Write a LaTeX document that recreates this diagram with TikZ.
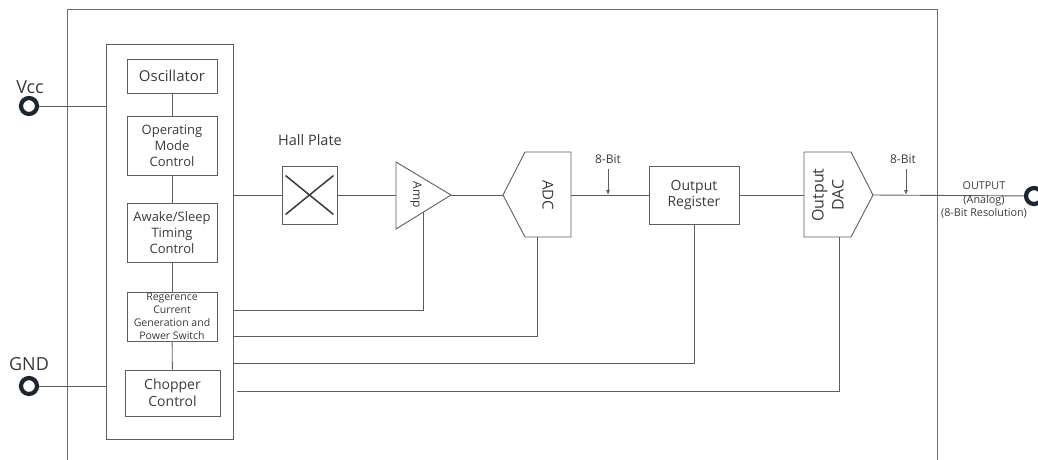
\documentclass[tikz,border=0pt]{standalone}
\usepackage{fontspec}
\setmainfont{Open Sans}
\usetikzlibrary{arrows.meta}
\definecolor{ln}{HTML}{5E5E5E}
\definecolor{tx}{HTML}{3A3A3A}
\definecolor{pin}{HTML}{1C2630}
\newcommand{\fs}[2]{\fontsize{#1}{#2}\selectfont}
\begin{document}
\begin{tikzpicture}[x=1pt,y=-1pt,
  every node/.style={text=tx},
  blk/.style={draw=ln, line width=0.9pt, minimum width=90pt, align=center, inner sep=0pt},
  wire/.style={draw=ln, line width=0.9pt},
  pinc/.style={circle, draw=pin, line width=4.2pt, minimum size=16pt, inner sep=0pt},
  lbl/.style={align=center, inner sep=0pt},
  bitarrow/.style={wire, -{Latex[length=5pt,width=4pt]}}
]
\useasboundingbox (0,0) rectangle (1038,459);

% outer frame (open at bottom)
\draw[wire, draw=ln!90] (67,470) -- (67,9) -- (937,9) -- (937,470);

% inner control block
\node[blk, minimum width=127pt, minimum height=395pt] (inner) at (169.5,241.5) {};
\node[blk, minimum height=34pt, font=\fs{15}{18}] (osc) at (172,76) {Oscillator};
\node[blk, minimum height=59pt, font=\fs{13}{16}] (opm) at (172,145.5) {Operating\\Mode\\Control};
\node[blk, minimum height=59pt, font=\fs{13}{16}] (awake) at (172,232.5) {Awake/Sleep\\Timing\\Control};
\node[blk, minimum height=49pt, font=\fs{10.5}{13}] (regen) at (172,316.5) {Regerence\\Current\\Generation and\\Power Switch};
\node[blk, minimum width=95pt, minimum height=46pt, font=\fs{14}{17}] (chop) at (172.5,393) {Chopper\\Control};
\draw[wire] (osc) -- (opm);
\draw[wire] (opm) -- (awake);
\draw[wire] (awake) -- (regen);
\draw[wire] (regen) -- (chop);

% supply pins
\node[pinc] (vcc) at (29,106) {};
\node[lbl, font=\fs{18}{20}] (vcclbl) at (30,87) {Vcc};
\node[pinc] (gnd) at (29,386) {};
\node[lbl, font=\fs{18}{20}] (gndlbl) at (29,364) {GND};
\draw[wire] (vcc) -- (vcc -| inner.west);
\draw[wire] (gnd) -- (gnd -| inner.west);

% hall plate
\node[blk, minimum width=55pt, minimum height=58pt] (hall) at (309.5,195) {};
\draw[draw=tx, line width=1.5pt] ([xshift=4pt,yshift=-10pt]hall.north west) -- ([xshift=-4pt,yshift=10pt]hall.south east);
\draw[draw=tx, line width=1.5pt] ([xshift=-4pt,yshift=-10pt]hall.north east) -- ([xshift=4pt,yshift=10pt]hall.south west);
\node[lbl, font=\fs{14.5}{17}] (halllbl) at (310,140) {Hall Plate};
\draw[wire] (inner.east |- hall.west) -- (hall.west);

% amplifier
\coordinate (ampin) at (396,195);
\coordinate (ampout) at (451,195);
\coordinate (ampbot) at (423,212.3);
\draw[wire] (396,162) -- (ampout) -- (396,229) -- cycle;
\node[lbl, rotate=-90, font=\fs{12}{14}] (amplbl) at (416,195) {Amp};
\draw[wire] (hall.east) -- (ampin);

% ADC
\coordinate (adcin) at (503,195);
\coordinate (adcout) at (571,195);
\coordinate (adcbot) at (537,237);
\draw[wire] (adcin) -- (525,152) -- (571,152) -- (571,237) -- (525,237) -- cycle;
\node[lbl, rotate=-90, font=\fs{15}{18}] (adclbl) at (548,195) {ADC};
\draw[wire] (ampout) -- (adcin);

% output register
\node[blk, minimum width=90pt, minimum height=58pt, font=\fs{14}{16.5}] (outreg) at (694,195) {Output\\Register};
\draw[wire] (adcout) -- (outreg.west);
\node[lbl, font=\fs{12}{14}] (bit1) at (608,159) {8-Bit};
\coordinate (bit1a) at (608,169);
\coordinate (bit1b) at (608,195);
\draw[bitarrow] (bit1a) -- (bit1b);

% output DAC
\coordinate (dacin) at (804,195);
\coordinate (dacout) at (873,195);
\coordinate (dacbot) at (839,237);
\draw[wire] (804,152) -- (851,152) -- (dacout) -- (851,237) -- (804,237) -- cycle;
\node[lbl, rotate=90, font=\fs{16}{20}] (daclbl) at (828,195) {Output\\DAC};
\draw[wire] (outreg.east) -- (dacin);
\node[lbl, font=\fs{12}{14}] (bit2) at (903,159) {8-Bit};
\coordinate (bit2a) at (906,169);
\coordinate (bit2b) at (906,195);
\draw[bitarrow] (bit2a) -- (bit2b);

% output pin
\node[pinc] (outpin) at (1034,196) {};
\draw[wire] (dacout) -- (outpin);
\node[lbl, font=\fs{10.8}{13.5}] (outlbl) at (984,200) {OUTPUT\\(Analog)\\(8-Bit Resolution)};

% control lines
\coordinate (y1) at (0,310);
\coordinate (y2) at (0,336);
\coordinate (y3) at (0,363);
\coordinate (y4) at (0,391);
\draw[wire] (inner.east |- y1) -| (ampbot);
\draw[wire] (inner.east |- y2) -| (adcbot);
\draw[wire] (inner.east |- y3) -| (outreg.south);
\draw[wire] ([xshift=4pt]inner.east |- y4) -| (dacbot);
\end{tikzpicture}
\end{document}
